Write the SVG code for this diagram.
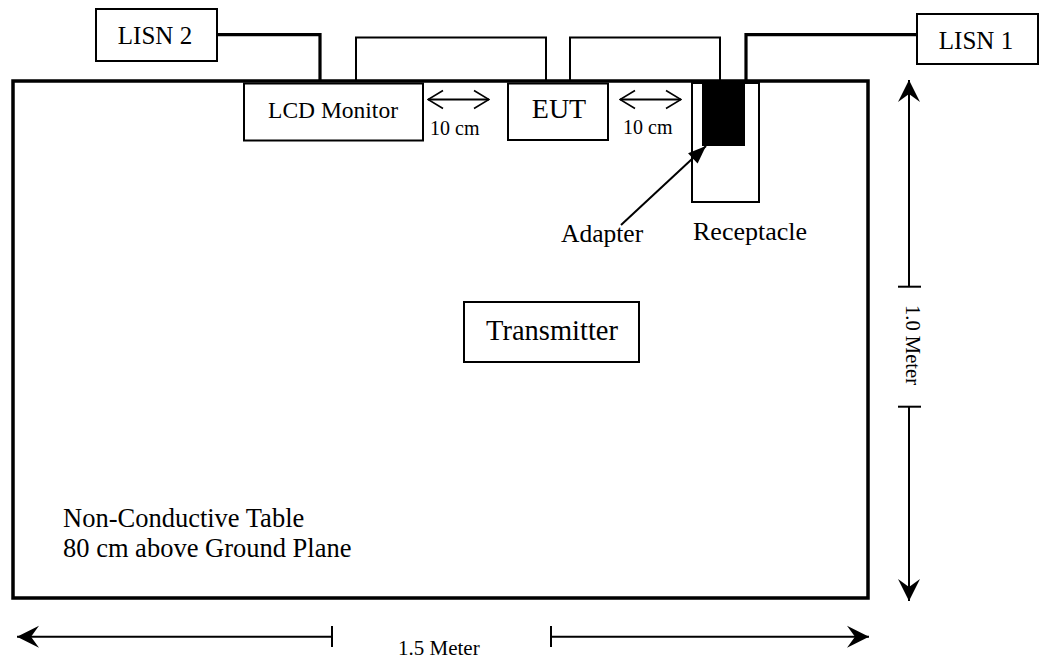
<svg xmlns="http://www.w3.org/2000/svg" width="1039" height="661" viewBox="0 0 1039 661">
<style>
  text { font-family: "Liberation Serif", "Times New Roman", serif; fill: #000; }
  .box { fill: #fff; stroke: #000; stroke-width: 2; }
  .table { fill: none; stroke: #000; stroke-width: 3.5; }
  .thin { fill: none; stroke: #000; stroke-width: 2; }
  .thick { fill: none; stroke: #000; stroke-width: 3.2; }
  .dim { fill: none; stroke: #000; stroke-width: 2; }
  .tick { fill: none; stroke: #000; stroke-width: 2; }
</style>
<defs>
  <marker id="big" markerUnits="userSpaceOnUse" viewBox="-23 -12 24 24" refX="0" refY="0" markerWidth="24" markerHeight="24" orient="auto-start-reverse">
    <path d="M0,0 L-22,-11 L-14,0 L-22,11 Z" fill="#000"/>
  </marker>
  <marker id="open" markerUnits="userSpaceOnUse" viewBox="-17 -11 18 22" refX="0" refY="0" markerWidth="18" markerHeight="22" orient="auto-start-reverse">
    <path d="M-15,-9 L0,0 L-15,9" fill="none" stroke="#000" stroke-width="1.6"/>
  </marker>
  <marker id="solid" markerUnits="userSpaceOnUse" viewBox="-19 -8 20 16" refX="0" refY="0" markerWidth="20" markerHeight="16" orient="auto">
    <path d="M0,0 L-18,-7 L-18,7 Z" fill="#000"/>
  </marker>
</defs>
<rect width="1039" height="661" fill="#fff"/>

<g id="table">
  <rect class="table" x="13" y="81" width="855" height="517"/>
  <text x="63" y="527" font-size="26.5">Non-Conductive Table</text>
  <text x="63" y="557" font-size="26.5">80 cm above Ground Plane</text>
</g>

<g id="lisn2">
  <rect class="box" x="96" y="9" width="121" height="52"/>
  <text x="155" y="43.5" font-size="25" text-anchor="middle">LISN 2</text>
</g>
<g id="lisn1">
  <rect class="box" x="917" y="14" width="121" height="50"/>
  <text x="976" y="49.3" font-size="25" text-anchor="middle">LISN 1</text>
</g>
<g id="lcd-monitor">
  <rect class="box" x="244" y="83.5" width="179" height="57"/>
  <text x="333" y="118" font-size="23.5" text-anchor="middle">LCD Monitor</text>
</g>
<g id="eut">
  <rect class="box" x="508" y="83.5" width="100" height="56.5"/>
  <text x="559" y="118.3" font-size="28" text-anchor="middle">EUT</text>
</g>
<g id="receptacle">
  <rect class="box" x="692" y="83" width="67" height="119"/>
  <text x="693" y="240" font-size="26">Receptacle</text>
</g>
<g id="adapter">
  <rect x="702" y="81" width="43" height="65" fill="#000"/>
  <text x="561" y="242" font-size="25.5">Adapter</text>
</g>
<g id="transmitter">
  <rect class="box" x="464" y="302" width="175" height="60"/>
  <text x="486" y="340" font-size="28.5">Transmitter</text>
</g>

<g id="spacing-1">
  <line class="dim" x1="428" y1="99.5" x2="489" y2="99.5" stroke-width="1.6" marker-start="url(#open)" marker-end="url(#open)"/>
  <text x="430" y="135" font-size="20">10 cm</text>
</g>
<g id="spacing-2">
  <line class="dim" x1="620" y1="99.5" x2="681" y2="99.5" stroke-width="1.6" marker-start="url(#open)" marker-end="url(#open)"/>
  <text x="623" y="134" font-size="20">10 cm</text>
</g>

<g id="dim-height">
  <line class="dim" x1="909" y1="80" x2="909" y2="286.7" marker-start="url(#big)"/>
  <line class="tick" x1="898" y1="286.7" x2="921" y2="286.7"/>
  <line class="dim" x1="909" y1="406.7" x2="909" y2="601" marker-end="url(#big)"/>
  <line class="tick" x1="898" y1="406.7" x2="921" y2="406.7"/>
  <text transform="translate(906,345) rotate(90)" font-size="20.6" text-anchor="middle">1.0 Meter</text>
</g>

<g id="dim-width">
  <line class="dim" x1="17" y1="636.7" x2="332" y2="636.7" marker-start="url(#big)"/>
  <line class="tick" x1="332" y1="626" x2="332" y2="647"/>
  <line class="dim" x1="551" y1="636.7" x2="869" y2="636.7" marker-end="url(#big)"/>
  <line class="tick" x1="551" y1="626" x2="551" y2="647"/>
  <text x="398" y="655" font-size="21">1.5 Meter</text>
</g>

<g id="connectors">
  <polyline class="thick" points="217,34.7 320,34.7 320,81"/>
  <polyline class="thick" points="917,34.7 746,34.7 746,81"/>
  <polyline class="thin" points="356,81 356,37.5 546,37.5 546,81"/>
  <polyline class="thin" points="570,81 570,37.5 720,37.5 720,81"/>
  <line class="dim" x1="621" y1="225" x2="706" y2="146" marker-end="url(#solid)"/>
</g>
</svg>
